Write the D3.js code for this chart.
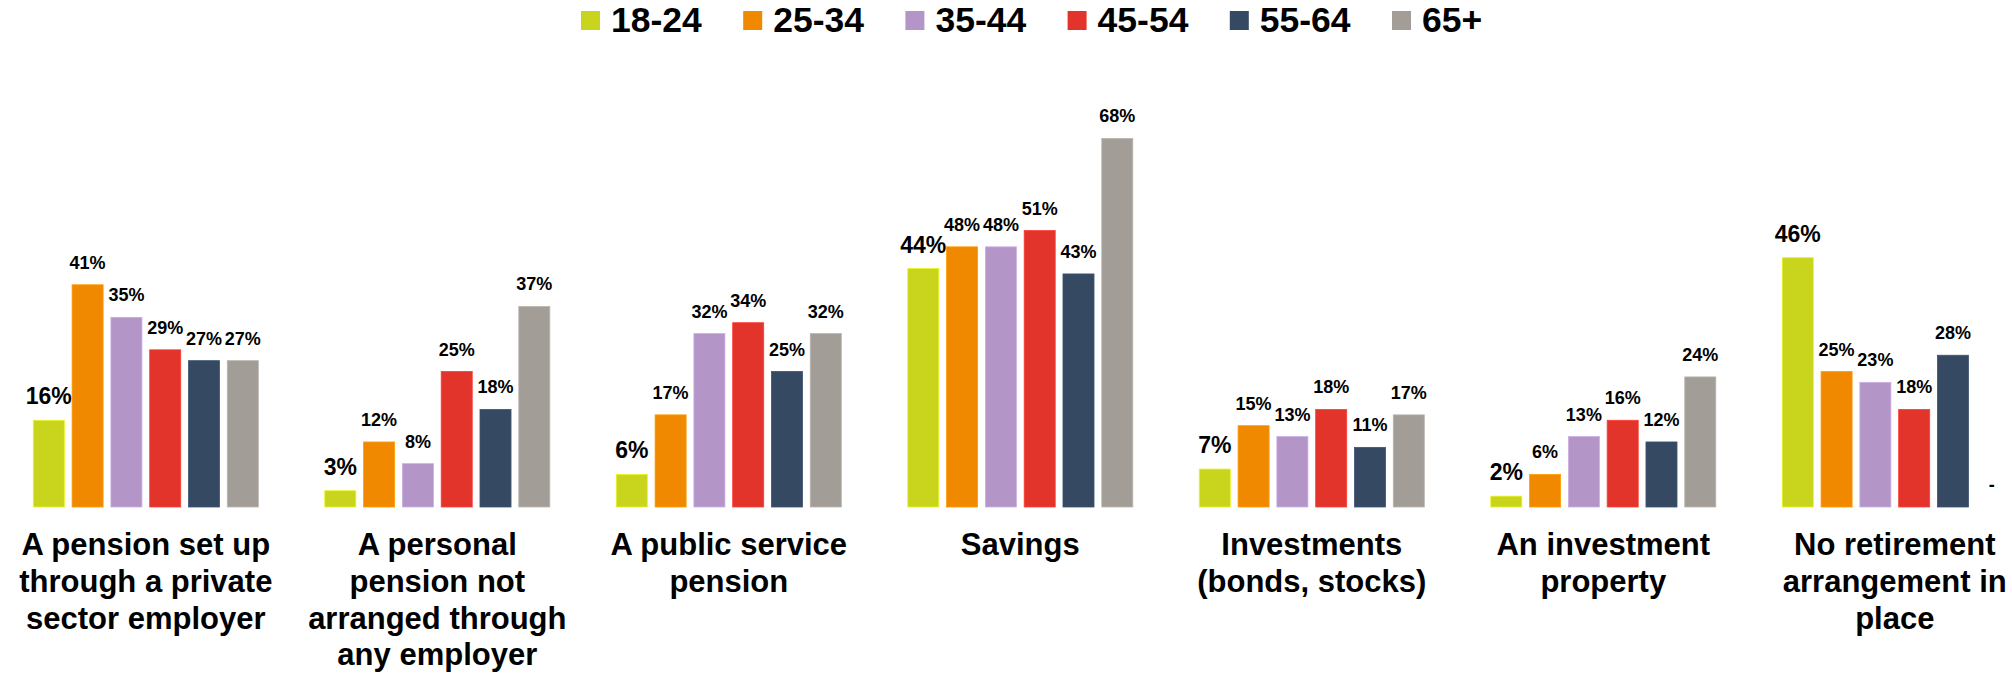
<!DOCTYPE html>
<html>
<head>
<meta charset="utf-8">
<script src="https://cdn.jsdelivr.net/npm/d3@7"></script>
<style>
  html, body { margin: 0; padding: 0; background: #fff; }
  svg { display: block; font-family: "Liberation Sans", Arial, Helvetica, sans-serif; }
</style>
</head>
<body>
<svg id="chart" width="2012" height="673"></svg>
<script>
// Retirement arrangements by age group (percent of respondents)
const categories = [
  "A pension set up through a private sector employer",
  "A personal pension not arranged through any employer",
  "A public service pension",
  "Savings",
  "Investments (bonds, stocks)",
  "An investment property",
  "No retirement arrangement in place"
];
const categoryLines = [
  ["A pension set up", "through a private", "sector employer"],
  ["A personal", "pension not", "arranged through", "any employer"],
  ["A public service", "pension"],
  ["Savings"],
  ["Investments", "(bonds, stocks)"],
  ["An investment", "property"],
  ["No retirement", "arrangement in", "place"]
];
const series = ["18-24", "25-34", "35-44", "45-54", "55-64", "65+"];
const colors = ["#c9d41c", "#f08800", "#b396c7", "#e3342c", "#354963", "#a29d96"];

// one array per age group, in category order (null = no value reported)
const age18_24 = [16, 3, 6, 44, 7, 2, 46];
const age25_34 = [41, 12, 17, 48, 15, 6, 25];
const age35_44 = [35, 8, 32, 48, 13, 13, 23];
const age45_54 = [29, 25, 34, 51, 18, 16, 18];
const age55_64 = [27, 18, 25, 43, 11, 12, 28];
const age65plus = [27, 37, 32, 68, 17, 24, null];
const values = [age18_24, age25_34, age35_44, age45_54, age55_64, age65plus];

const svg = d3.select("#chart");

const baseline = 507;
const y = d3.scaleLinear().domain([0, 80]).range([baseline, baseline - 80 * 5.42]);

const x0 = d3.scaleBand()
  .domain(categories)
  .range([33.3, 2007.3])
  .paddingInner(0.228)
  .paddingOuter(0);

const x1 = d3.scaleBand()
  .domain(series)
  .range([0, x0.bandwidth()])
  .paddingInner(0.2)
  .paddingOuter(0);

const rows = [];
categories.forEach((c, ci) => {
  series.forEach((s, si) => {
    rows.push({ cat: c, ci, s, si, v: values[si][ci] });
  });
});

const groups = svg.append("g");

// bars
groups.selectAll("rect.bar")
  .data(rows.filter(d => d.v != null))
  .join("rect")
  .attr("class", "bar")
  .attr("x", d => x0(d.cat) + x1(d.s))
  .attr("y", d => y(d.v))
  .attr("width", x1.bandwidth())
  .attr("height", d => y(0) - y(d.v))
  .attr("fill", d => colors[d.si])
  .attr("stroke", d => d3.color(colors[d.si]).brighter(0.4))
  .attr("stroke-width", 0.8);

// value labels
groups.selectAll("text.val")
  .data(rows)
  .join("text")
  .attr("class", "val")
  .attr("x", d => x0(d.cat) + x1(d.s) + x1.bandwidth() / 2)
  .attr("y", d => y(d.v == null ? 0 : d.v) - 16)
  .attr("text-anchor", "middle")
  .attr("font-weight", "bold")
  .attr("font-size", d => d.si === 0 ? 23 : 18)
  .attr("fill", "#000")
  .text(d => d.v == null ? "-" : d.v + "%");

// category labels
const catLabels = svg.append("g")
  .selectAll("text")
  .data(categories)
  .join("text")
  .attr("x", d => x0(d) + x0.bandwidth() / 2)
  .attr("y", 555)
  .attr("text-anchor", "middle")
  .attr("font-weight", "bold")
  .attr("font-size", 31)
  .attr("fill", "#000");

catLabels.selectAll("tspan")
  .data((d, i) => categoryLines[i])
  .join("tspan")
  .attr("x", function () { return d3.select(this.parentNode).attr("x"); })
  .attr("dy", (d, i) => i === 0 ? 0 : 36.8)
  .text(d => d);

// legend
const legend = svg.append("g")
  .selectAll("g")
  .data(series)
  .join("g")
  .attr("transform", (d, i) => `translate(${581 + i * 162.2},0)`);

legend.append("rect")
  .attr("x", 0)
  .attr("y", 11)
  .attr("width", 19)
  .attr("height", 19)
  .attr("fill", (d, i) => colors[i]);

legend.append("text")
  .attr("x", 30)
  .attr("y", 32)
  .attr("font-weight", "bold")
  .attr("font-size", 35.5)
  .attr("fill", "#000")
  .text(d => d);
</script>
</body>
</html>
